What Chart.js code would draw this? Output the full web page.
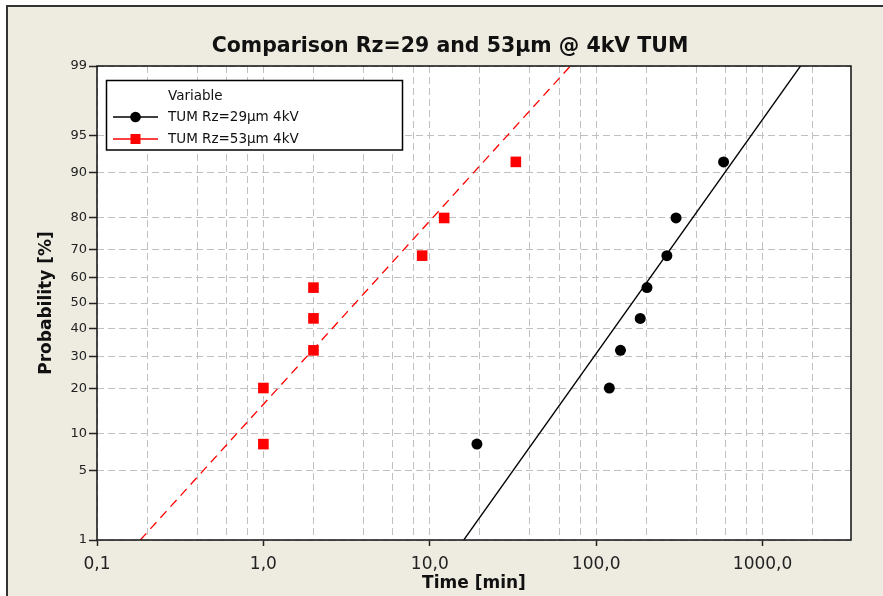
<!DOCTYPE html>
<html>
<head>
<meta charset="utf-8">
<script src="https://cdn.jsdelivr.net/npm/chart.js@4"></script>
<style>
  html, body { margin: 0; padding: 0; background: #fff; }
  #wrap { width: 883px; height: 596px; }
</style>
</head>
<body>
<div id="wrap"><canvas id="chart" width="883" height="596"></canvas></div>
<script>
// probability of failure (median ranks, %)
const probability = [8.3, 20.2, 32.1, 44.0, 56.0, 67.9, 79.8, 91.7];
// time to failure [min]
const time29 = [19.2, 120, 140, 184, 202, 266, 302, 583];
const time53 = [1.0, 1.0, 2.0, 2.0, 2.0, 9.0, 12.2, 32.9];

// fitted lognormal lines, read where they cross 1% and 99%
const fitProb = [1, 99];
const fit29Time = [16.0, 1690];
const fit53Time = [0.182, 70];

const label29 = 'TUM Rz=29\u00b5m 4kV';
const label53 = 'TUM Rz=53\u00b5m 4kV';

const probTicks = [1, 5, 10, 20, 30, 40, 50, 60, 70, 80, 90, 95, 99];
const timeGrid = [0.1, 0.2, 0.4, 0.6, 0.8, 1, 2, 4, 6, 8, 10, 20, 40, 60, 80, 100, 200, 400, 600, 800, 1000, 2000];
const timeLabels = [0.1, 1, 10, 100, 1000];

const FONT = '"DejaVu Sans", sans-serif';
const GRID = '#c0c0c0';

// inverse normal cdf (Acklam), used by the probability scale
function probit(p) {
  const a = [-39.69683028665376, 220.9460984245205, -275.9285104469687, 138.3577518672690, -30.66479806614716, 2.506628277459239];
  const b = [-54.47609879822406, 161.5858368580409, -155.6989798598866, 66.80131188771972, -13.28068155288572];
  const c = [-0.007784894002430293, -0.3223964580411365, -2.400758277161838, -2.549671348321360, 4.374664141464968, 2.938163982698783];
  const d = [0.007784695709041462, 0.3224671290700398, 2.445134137142996, 3.754408661907416];
  const pl = 0.02425;
  let q, r;
  if (p < pl) {
    q = Math.sqrt(-2 * Math.log(p));
    return (((((c[0]*q+c[1])*q+c[2])*q+c[3])*q+c[4])*q+c[5]) / ((((d[0]*q+d[1])*q+d[2])*q+d[3])*q+1);
  }
  if (p > 1 - pl) {
    q = Math.sqrt(-2 * Math.log(1 - p));
    return -(((((c[0]*q+c[1])*q+c[2])*q+c[3])*q+c[4])*q+c[5]) / ((((d[0]*q+d[1])*q+d[2])*q+d[3])*q+1);
  }
  q = p - 0.5; r = q * q;
  return (((((a[0]*r+a[1])*r+a[2])*r+a[3])*r+a[4])*r+a[5])*q / (((((b[0]*r+b[1])*r+b[2])*r+b[3])*r+b[4])*r+1);
}

class ProbitScale extends Chart.Scale {
  determineDataLimits() {
    this.min = this.options.min;
    this.max = this.options.max;
  }
  buildTicks() {
    return probTicks.map(v => ({ value: v }));
  }
  getLabelForValue(v) { return String(v); }
  configure() {
    super.configure();
    this._zMin = probit(this.min / 100);
    this._zMax = probit(this.max / 100);
  }
  getPixelForValue(v) {
    const z = probit(v / 100);
    return this.getPixelForDecimal((z - this._zMin) / (this._zMax - this._zMin));
  }
  getValueForPixel(px) {
    const dec = this.getDecimalForPixel(px);
    const z = this._zMin + dec * (this._zMax - this._zMin);
    let lo = 0.0001, hi = 0.9999;
    for (let i = 0; i < 50; i++) {
      const mid = (lo + hi) / 2;
      if (probit(mid) < z) lo = mid; else hi = mid;
    }
    return lo * 100;
  }
}
ProbitScale.id = 'probit';
ProbitScale.defaults = {};
Chart.register(ProbitScale);

const toPoints = (xs, ys) => xs.map((x, i) => ({ x: x, y: ys[i] }));

const pagePlugin = {
  id: 'page',
  beforeDraw(chart) {
    const { ctx, width, height, chartArea: a } = chart;
    ctx.save();
    ctx.fillStyle = '#fff';
    ctx.fillRect(0, 0, width, height);
    ctx.fillStyle = '#eeebe1';
    ctx.fillRect(7, 6, width, height);
    ctx.strokeStyle = '#333';
    ctx.lineWidth = 2;
    ctx.beginPath();
    ctx.moveTo(7, height);
    ctx.lineTo(7, 6);
    ctx.lineTo(width, 6);
    ctx.stroke();
    ctx.fillStyle = '#fff';
    ctx.fillRect(a.left, a.top, a.right - a.left, a.bottom - a.top);
    ctx.fillStyle = '#111';
    ctx.font = 'bold 20.5px ' + FONT;
    ctx.textAlign = 'center';
    ctx.textBaseline = 'middle';
    ctx.fillText('Comparison Rz=29 and 53\u00b5m @ 4kV TUM', 450, 47);
    ctx.restore();
  },
  afterDatasetsDraw(chart) {
    const { ctx, chartArea: a } = chart;
    ctx.save();
    ctx.strokeStyle = '#111';
    ctx.lineWidth = 1.5;
    ctx.strokeRect(a.left, a.top, a.right - a.left, a.bottom - a.top);

    // legend box
    ctx.fillStyle = '#fff';
    ctx.fillRect(106.5, 80.5, 296, 69.5);
    ctx.strokeStyle = '#000';
    ctx.lineWidth = 1.5;
    ctx.strokeRect(106.5, 80.5, 296, 69.5);
    ctx.font = '13.5px ' + FONT;
    ctx.textAlign = 'left';
    ctx.textBaseline = 'middle';
    ctx.fillStyle = '#111';
    ctx.fillText('Variable', 168, 96);
    const rows = [chart.data.datasets[0], chart.data.datasets[1]];
    rows.forEach((ds, i) => {
      const y = 117 + i * 22;
      ctx.strokeStyle = ds.borderColor;
      ctx.lineWidth = 1.5;
      ctx.beginPath();
      ctx.moveTo(113, y);
      ctx.lineTo(158, y);
      ctx.stroke();
      ctx.fillStyle = ds.backgroundColor;
      if (ds.pointStyle === 'rect') {
        ctx.fillRect(130.5, y - 5, 10, 10);
      } else {
        ctx.beginPath();
        ctx.arc(135.5, y, 5.3, 0, Math.PI * 2);
        ctx.fill();
      }
      ctx.fillStyle = '#111';
      ctx.fillText(ds.label, 168, y);
    });
    ctx.restore();
  }
};

new Chart(document.getElementById('chart'), {
  type: 'scatter',
  data: {
    datasets: [
      {
        label: label29,
        data: toPoints(time29, probability),
        pointStyle: 'circle',
        pointRadius: 5.5,
        backgroundColor: '#000',
        borderColor: '#000',
        borderWidth: 0
      },
      {
        label: label53,
        data: toPoints(time53, probability),
        pointStyle: 'rect',
        pointRadius: 7.5,
        backgroundColor: '#ff0000',
        borderColor: '#ff0000',
        borderWidth: 0
      },
      {
        label: 'fit 29',
        data: toPoints(fit29Time, fitProb),
        showLine: true,
        pointRadius: 0,
        borderColor: '#000',
        borderWidth: 1.3
      },
      {
        label: 'fit 53',
        data: toPoints(fit53Time, fitProb),
        showLine: true,
        pointRadius: 0,
        borderColor: '#ff0000',
        borderWidth: 1.3,
        borderDash: [9, 6]
      }
    ]
  },
  options: {
    responsive: false,
    animation: false,
    events: [],
    layout: { padding: { top: 66, right: 32, left: 0, bottom: 0 } },
    plugins: {
      legend: { display: false },
      tooltip: { enabled: false }
    },
    scales: {
      x: {
        type: 'logarithmic',
        min: 0.1,
        max: 3400,
        position: 'bottom',
        afterBuildTicks: s => { s.ticks = timeGrid.map(v => ({ value: v })); },
        afterFit: s => { s.height = 56; },
        ticks: {
          autoSkip: false,
          maxRotation: 0,
          color: '#222',
          font: { family: FONT, size: 17 },
          padding: 8,
          callback: v => timeLabels.includes(v) ? v.toFixed(1).replace('.', ',') : ''
        },
        grid: {
          color: GRID,
          lineWidth: 1,
          tickColor: c => timeLabels.includes(c.tick && c.tick.value) ? '#222' : 'rgba(0,0,0,0)',
          tickLength: 6,
          tickWidth: 1.5,
          tickBorderDash: []
        },
        border: { display: false, dash: [7, 4] },
        title: {
          display: true,
          text: 'Time [min]',
          color: '#111',
          font: { family: FONT, size: 17, weight: 'bold' },
          padding: { top: 0, bottom: 2 }
        }
      },
      y: {
        type: 'probit',
        min: 1,
        max: 99,
        position: 'left',
        afterFit: s => { s.width = 97; },
        ticks: {
          autoSkip: false,
          color: '#222',
          font: { family: FONT, size: 13 },
          padding: 2
        },
        grid: {
          color: GRID,
          lineWidth: 1,
          tickColor: '#222',
          tickLength: 8,
          tickWidth: 1.5,
          tickBorderDash: []
        },
        border: { display: false, dash: [7, 4] },
        title: {
          display: true,
          text: 'Probability [%]',
          color: '#111',
          font: { family: FONT, size: 17, weight: 'bold' },
          padding: { top: 36, bottom: 0 }
        }
      }
    }
  },
  plugins: [pagePlugin]
});
</script>
</body>
</html>
